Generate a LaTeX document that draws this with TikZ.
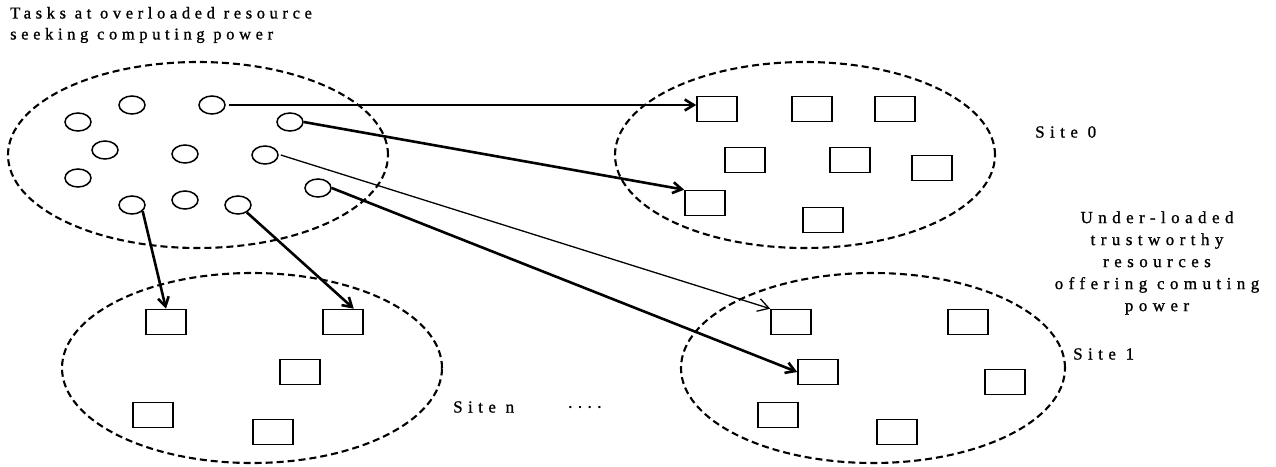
\documentclass[tikz,border=0pt]{standalone}
\usepackage{fontspec}
\usetikzlibrary{shapes.geometric,arrows.meta,calc}
\newfontfamily\tfa[LetterSpace=28,FakeBold=1]{Liberation Serif}
\newfontfamily\tfb[LetterSpace=32,FakeBold=1]{Liberation Serif}
\begin{document}
\begin{tikzpicture}[x=1pt,y=-1pt,
  site/.style={ellipse,draw,dashed,dash pattern=on 7pt off 4pt,line width=2.1pt,inner sep=0},
  task/.style={ellipse,draw,line width=1.5pt,minimum width=26pt,minimum height=18pt,inner sep=0},
  res/.style={rectangle,draw,line width=1.6pt,minimum width=40pt,minimum height=25pt,inner sep=0},
  lbla/.style={font=\tfa\fontsize{16.5}{21}\selectfont,inner sep=0},
  lblb/.style={font=\tfb\fontsize{17}{22}\selectfont,inner sep=0},
  thick arrow/.style={line width=2.6pt,-{Straight Barb[length=9pt,width=11pt]}},
  thin arrow/.style={line width=1.3pt,-{Straight Barb[length=11pt,width=13pt]}}]
\useasboundingbox (0,0) rectangle (1276,466);
\fill[white] (0,0) rectangle (1276,466);

% sites
\node[site,minimum width=380pt,minimum height=186pt] (src) at (198,155) {};
\node[site,minimum width=380pt,minimum height=186pt] (site0) at (805,155) {};
\node[site,minimum width=380pt,minimum height=190pt] (siten) at (252,368) {};
\node[site,minimum width=384pt,minimum height=190pt] (site1) at (873,368) {};

% tasks
\node[task] (c01) at (132,105) {};
\node[task] (c02) at (212,105) {};
\node[task] (c03) at (78,122) {};
\node[task] (c04) at (290,122) {};
\node[task] (c05) at (105,150) {};
\node[task] (c06) at (185,154) {};
\node[task] (c07) at (265,155) {};
\node[task] (c08) at (78,178) {};
\node[task] (c09) at (318,188) {};
\node[task] (c10) at (132,205) {};
\node[task] (c11) at (185,200) {};
\node[task] (c12) at (238,205) {};

% site 0 resources
\node[res] (a1) at (717,109) {};
\node[res] (a2) at (812,109) {};
\node[res] (a3) at (895,109) {};
\node[res] (a4) at (745,160) {};
\node[res] (a5) at (850,160) {};
\node[res] (a6) at (932,168) {};
\node[res] (a7) at (705,203) {};
\node[res] (a8) at (823,220) {};

% site n resources
\node[res] (b1) at (166,322) {};
\node[res] (b2) at (343,322) {};
\node[res] (b3) at (300,372) {};
\node[res] (b4) at (153,415) {};
\node[res] (b5) at (273,432) {};

% site 1 resources
\node[res] (d1) at (791,322) {};
\node[res] (d2) at (968,322) {};
\node[res] (d3) at (818,372) {};
\node[res] (d4) at (1005,382) {};
\node[res] (d5) at (778,415) {};
\node[res] (d6) at (897,432) {};

% arrows
\draw[thick arrow] ([xshift=3pt]c02.east) -- (a1.west |- c02.east);
\draw[thick arrow] (c04.east) -- (a7.north west);
\draw[thin arrow] ([xshift=2pt]c07.east) -- (d1.north west);
\draw[thick arrow] (c09.east) -- (d3.west);
\draw[thick arrow] (c10.-30) -- (b1.north);
\draw[thick arrow] (c12.-40) -- (b2.51);

% labels
\node[lbla,anchor=west,align=left] (tasks) at (10,25) {Tasks at overloaded resource\\seeking computing power};
\node[lblb,anchor=west] (l0) at (1035,132) {Site 0};
\node[lblb,anchor=west] (l1) at (1073,354) {Site 1};
\node[lblb,anchor=west] (ln) at (453,407) {Site n};
\node[lblb,anchor=west] (dots) at (568,407) {....};
\node[lblb,align=center] (under) at (1157,263) {Under-loaded\\trustworthy\\resources\\offering comuting\\power};
\end{tikzpicture}
\end{document}
